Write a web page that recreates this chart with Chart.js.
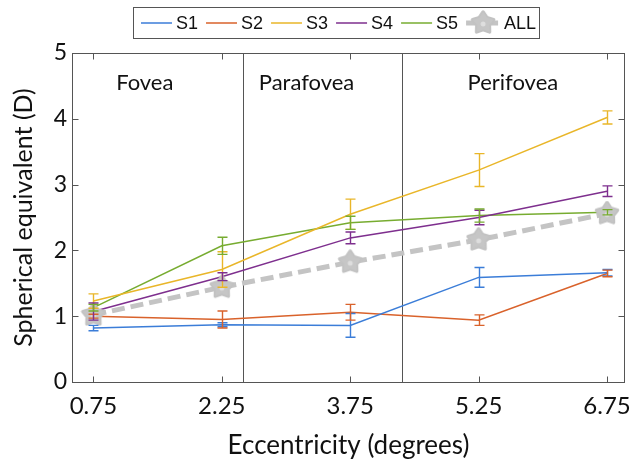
<!DOCTYPE html>
<html>
<head>
<meta charset="utf-8">
<script src="https://cdn.jsdelivr.net/npm/chart.js@4.4.0/dist/chart.umd.min.js"></script>
<style>
  html, body { margin: 0; padding: 0; background: #fff; }
</style>
</head>
<body>
<canvas id="chart" width="632" height="466"></canvas>
<script>
// eccentricity positions (degrees)
const xValues = [0.75, 2.25, 3.75, 5.25, 6.75];
const xTicks = [0.75, 2.25, 3.75, 5.25, 6.75];

const seriesNames = ["S1", "S2", "S3", "S4", "S5", "ALL"];

const s1 = [0.82, 0.87, 0.86, 1.59, 1.66];
const s1Err = [0.04, 0.03, 0.18, 0.15, 0.05];
const s2 = [1.0, 0.95, 1.06, 0.94, 1.65];
const s2Err = [0.03, 0.13, 0.12, 0.08, 0.05];
const s3 = [1.23, 1.71, 2.55, 3.22, 4.02];
const s3Err = [0.11, 0.27, 0.23, 0.25, 0.10];
const s4 = [1.07, 1.6, 2.19, 2.5, 2.9];
const s4Err = [0.13, 0.06, 0.09, 0.11, 0.08];
const s5 = [1.13, 2.07, 2.42, 2.53, 2.58];
const s5Err = [0.05, 0.13, 0.1, 0.1, 0.04];
const allMean = [1.02, 1.44, 1.82, 2.16, 2.56];

// region boundaries and names
const boundaries = [2.5, 4.36];
const regionNames = ["Fovea", "Parafovea", "Perifovea"];
const regionLabelX = [1.35, 3.24, 5.65];

const colors = ["#3b7dd8", "#d9622b", "#e9b629", "#7e2f8e", "#77ac30", "#c4c4c4"];
const FONT = "Lato, 'Open Sans', sans-serif";

function makeStar(size) {
  const c = document.createElement("canvas");
  c.width = size;
  c.height = size;
  const g = c.getContext("2d");
  const cx = size / 2, cy = size / 2;
  const ro = size / 2 - 2, ri = ro * 0.6;
  g.beginPath();
  for (let i = 0; i < 10; i++) {
    const r = i % 2 === 0 ? ro : ri;
    const a = -Math.PI / 2 + i * Math.PI / 5;
    const px = cx + r * Math.cos(a), py = cy + r * Math.sin(a);
    if (i === 0) g.moveTo(px, py); else g.lineTo(px, py);
  }
  g.closePath();
  g.lineJoin = "round";
  g.lineWidth = 3.5;
  g.strokeStyle = "#c2c2c2";
  g.stroke();
  g.fillStyle = "#c6c6c6";
  g.fill();
  g.beginPath();
  g.arc(cx, cy + 1, 2.5, 0, Math.PI * 2);
  g.fillStyle = "#dedede";
  g.fill();
  return c;
}
const star = makeStar(26);

function toPoints(values) {
  return values.map((v, i) => ({ x: xValues[i], y: v }));
}

const subjects = [s1, s2, s3, s4, s5];
const subjectErr = [s1Err, s2Err, s3Err, s4Err, s5Err];

const datasets = subjects.map((vals, i) => ({
  label: seriesNames[i],
  data: toPoints(vals),
  errors: subjectErr[i],
  borderColor: colors[i],
  backgroundColor: colors[i],
  borderWidth: 1.5,
  pointRadius: 0,
  pointHoverRadius: 0,
  tension: 0,
  order: 1
}));
datasets.push({
  label: "ALL",
  data: toPoints(allMean),
  borderColor: colors[5],
  backgroundColor: colors[5],
  borderWidth: 5,
  borderDash: [13, 6],
  pointStyle: star,
  pointRadius: 1,   // image markers are drawn at their own size
  pointHoverRadius: 1,
  tension: 0,
  order: 0
});

const errorBars = {
  id: "errorBars",
  afterDatasetsDraw(chart) {
    const { ctx, scales: { x, y } } = chart;
    chart.data.datasets.forEach((ds) => {
      if (!ds.errors) return;
      ctx.save();
      ctx.strokeStyle = ds.borderColor;
      ctx.lineWidth = 1.4;
      ds.data.forEach((p, i) => {
        const px = Math.round(x.getPixelForValue(p.x)) + 0.5;
        const top = y.getPixelForValue(p.y + ds.errors[i]);
        const bot = y.getPixelForValue(p.y - ds.errors[i]);
        ctx.beginPath();
        ctx.moveTo(px, top); ctx.lineTo(px, bot);
        ctx.moveTo(px - 5, top); ctx.lineTo(px + 5, top);
        ctx.moveTo(px - 5, bot); ctx.lineTo(px + 5, bot);
        ctx.stroke();
      });
      ctx.restore();
    });
  }
};

const regions = {
  id: "regions",
  beforeDatasetsDraw(chart) {
    const { ctx, chartArea: a, scales: { x, y } } = chart;
    ctx.save();
    ctx.strokeStyle = "#555";
    ctx.lineWidth = 1;
    boundaries.forEach((b) => {
      const px = Math.round(x.getPixelForValue(b)) + 0.5;
      ctx.beginPath();
      ctx.moveTo(px, a.top);
      ctx.lineTo(px, a.bottom);
      ctx.stroke();
    });
    ctx.fillStyle = "#111";
    ctx.font = "22px " + FONT;
    ctx.textAlign = "center";
    ctx.textBaseline = "middle";
    regionNames.forEach((name, i) => {
      ctx.fillText(name, x.getPixelForValue(regionLabelX[i]), y.getPixelForValue(4.55));
    });
    ctx.restore();
  }
};

const frame = {
  id: "frame",
  afterDraw(chart) {
    const { ctx, chartArea: a, scales: { x, y } } = chart;
    ctx.save();
    ctx.strokeStyle = "#555";
    ctx.lineWidth = 1;
    const L = Math.round(a.left) + 0.5, R = Math.round(a.right) - 0.5;
    const T = Math.round(a.top) + 0.5, B = Math.round(a.bottom) + 0.5;
    ctx.strokeRect(L, T, R - L, B - T);
    ctx.beginPath();
    x.ticks.forEach((t) => {
      const px = Math.round(x.getPixelForValue(t.value)) + 0.5;
      ctx.moveTo(px, B); ctx.lineTo(px, B - 6);
      ctx.moveTo(px, T); ctx.lineTo(px, T + 6);
    });
    y.ticks.forEach((t) => {
      const py = Math.round(y.getPixelForValue(t.value)) + 0.5;
      ctx.moveTo(L, py); ctx.lineTo(L + 6, py);
      ctx.moveTo(R, py); ctx.lineTo(R - 6, py);
    });
    ctx.stroke();

    // legend box
    ctx.strokeRect(133.5, 7.5, 406, 31);
    ctx.font = "18px 'Liberation Sans', Arial, sans-serif";
    ctx.textBaseline = "middle";
    ctx.textAlign = "left";
    let lx = 141;
    const ly = 23;
    chart.data.datasets.forEach((ds) => {
      const isAll = ds.label === "ALL";
      const w = isAll ? 34 : 31;
      ctx.save();
      ctx.strokeStyle = ds.borderColor;
      ctx.lineWidth = isAll ? 5 : 1.5;
      if (isAll) ctx.setLineDash([13, 6]);
      ctx.beginPath();
      ctx.moveTo(lx, ly);
      ctx.lineTo(lx + w, ly);
      ctx.stroke();
      ctx.restore();
      if (isAll) ctx.drawImage(star, lx + w / 2 - 13, ly - 13);
      ctx.fillStyle = "#111";
      ctx.fillText(ds.label, lx + w + 4, ly + 1);
      lx += w + 4 + ctx.measureText(ds.label).width + 8;
    });
    ctx.restore();
  }
};

new Chart(document.getElementById("chart"), {
  type: "line",
  data: { datasets },
  options: {
    responsive: false,
    animation: false,
    layout: { autoPadding: false, padding: { top: 53, right: 7, left: 0, bottom: 0 } },
    plugins: { legend: { display: false }, tooltip: { enabled: false } },
    elements: { line: { fill: false } },
    scales: {
      x: {
        type: "linear",
        min: 0.5,
        max: 6.96,
        afterBuildTicks: (scale) => { scale.ticks = xTicks.map((v) => ({ value: v })); },
        afterFit: (scale) => {
          scale.height = 84;
          // tick labels may run past the plot edges, as in the original
          scale.paddingLeft = 0;
          scale.paddingRight = 0;
        },
        grid: { display: false, drawTicks: false },
        border: { display: false },
        ticks: { color: "#111", font: { family: FONT, size: 24 }, padding: 10, maxRotation: 0,
          callback: (v) => v.toFixed(2) },
        title: { display: true, text: "Eccentricity (degrees)", color: "#111",
          font: { family: FONT, size: 26 }, padding: { top: 0, bottom: 5 } }
      },
      y: {
        min: 0,
        max: 5,
        afterFit: (scale) => {
          scale.width = 72;
          scale.paddingTop = 0;
          scale.paddingBottom = 0;
        },
        grid: { display: false, drawTicks: false },
        border: { display: false },
        ticks: { stepSize: 1, color: "#111", font: { family: FONT, size: 23 }, padding: 5 },
        title: { display: true, text: "Spherical equivalent (D)", color: "#111",
          font: { family: FONT, size: 25 }, padding: { top: 9, bottom: 0 } }
      }
    }
  },
  plugins: [regions, errorBars, frame]
});
</script>
</body>
</html>
